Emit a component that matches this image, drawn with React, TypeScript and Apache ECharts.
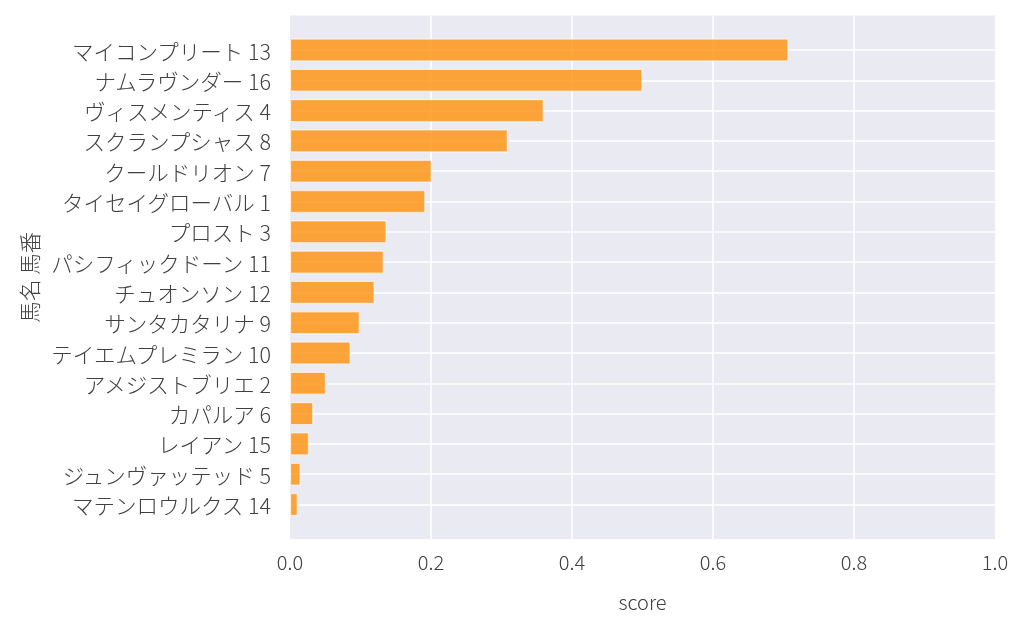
import React, { useEffect, useRef } from "react";
import * as echarts from "echarts";

const horseLabels = [
  "マイコンプリート 13",
  "ナムラヴンダー 16",
  "ヴィスメンティス 4",
  "スクランプシャス 8",
  "クールドリオン 7",
  "タイセイグローバル 1",
  "プロスト 3",
  "パシフィックドーン 11",
  "チュオンソン 12",
  "サンタカタリナ 9",
  "テイエムプレミラン 10",
  "アメジストブリエ 2",
  "カパルア 6",
  "レイアン 15",
  "ジュンヴァッテッド 5",
  "マテンロウルクス 14",
];

const scores = [
  0.707, 0.5, 0.36, 0.309, 0.201, 0.192, 0.137, 0.133, 0.12, 0.099, 0.086,
  0.051, 0.033, 0.027, 0.015, 0.011,
];

const xTicks = [0, 0.2, 0.4, 0.6, 0.8, 1.0];

const FONT =
  "'Noto Sans CJK JP Light', 'Noto Sans CJK JP DemiLight', 'Noto Sans CJK JP', 'Noto Sans', sans-serif";
const TEXT_COLOR = "#404040";

export default function App() {
  const ref = useRef<HTMLDivElement>(null);

  useEffect(() => {
    if (!ref.current) return;
    const chart = echarts.init(ref.current, undefined, { renderer: "svg" });
    const gridLine = { color: "#ffffff", width: 1.6 };
    chart.setOption({
      animation: false,
      textStyle: { fontFamily: FONT },
      grid: [
        {
          left: 290,
          top: 15.5,
          width: 705,
          height: 523.5,
          show: true,
          backgroundColor: "#EAEAF2",
          borderWidth: 0,
        },
        { left: 290, top: 50, width: 705, height: 454.5 },
      ],
      xAxis: [
        {
          gridIndex: 0,
          type: "value",
          min: xTicks[0],
          max: xTicks[xTicks.length - 1],
          interval: 0.2,
          axisLine: { show: false },
          axisTick: { show: false },
          axisLabel: {
            formatter: (v: number) => v.toFixed(1),
            fontSize: 20,
            fontWeight: 300,
            color: TEXT_COLOR,
            fontFamily: FONT,
            margin: 12,
          },
          splitLine: {
            show: true,
            lineStyle: gridLine,
            showMinLine: false,
            showMaxLine: false,
          },
          name: "score",
          nameLocation: "middle",
          nameGap: 52,
          nameTextStyle: {
            fontSize: 20,
            fontWeight: 300,
            color: TEXT_COLOR,
            fontFamily: FONT,
          },
        },
        { gridIndex: 1, type: "value", min: 0, max: 1, show: false },
      ],
      yAxis: [
        { gridIndex: 0, type: "value", show: false },
        {
          gridIndex: 1,
          type: "category",
          data: horseLabels,
          inverse: true,
          boundaryGap: false,
          axisLine: { show: false },
          axisTick: { show: false },
          axisLabel: {
            interval: 0,
            fontSize: 21.5,
            fontWeight: 300,
            color: TEXT_COLOR,
            fontFamily: FONT,
            margin: 19,
          },
          splitLine: { show: true, interval: 0, lineStyle: gridLine },
          name: "馬名 馬番",
          nameLocation: "middle",
          nameGap: 246,
          nameTextStyle: {
            fontSize: 21.5,
            fontWeight: 300,
            color: TEXT_COLOR,
            fontFamily: FONT,
          },
        },
      ],
      series: [
        {
          type: "bar",
          xAxisIndex: 1,
          yAxisIndex: 1,
          data: scores,
          barWidth: 23,
          clip: false,
          itemStyle: {
            color: "rgba(255,145,10,0.8)",
            borderColor: "rgba(255,255,255,0.6)",
            borderWidth: 1.2,
          },
        },
      ],
    });
    return () => chart.dispose();
  }, []);

  return (
    <div
      ref={ref}
      style={{ position: "fixed", left: 0, top: 0, width: 1024, height: 631 }}
    />
  );
}
